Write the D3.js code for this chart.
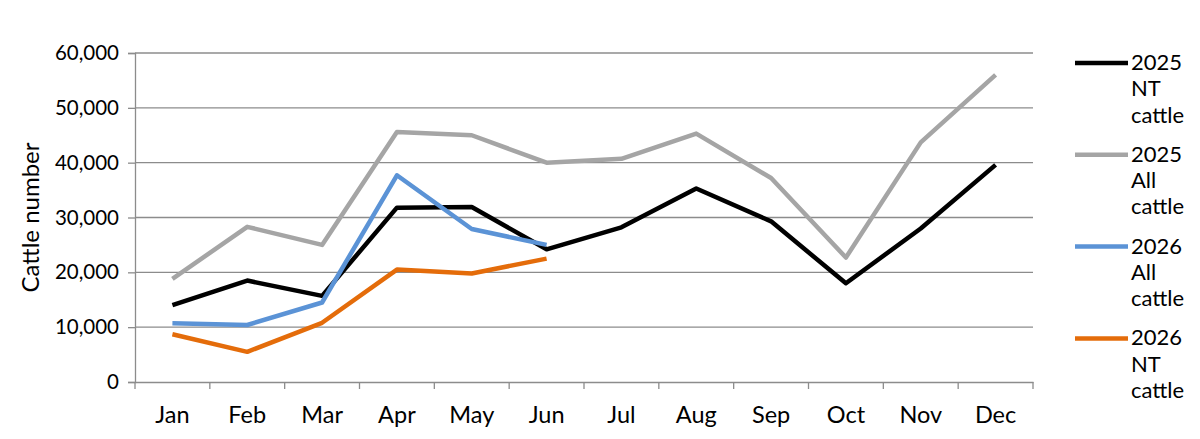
<!DOCTYPE html>
<html>
<head>
<meta charset="utf-8">
<script src="https://cdn.jsdelivr.net/npm/d3@7"></script>
<style>
body { margin: 0; background: #fff; }
text { font-family: Lato, "Open Sans", sans-serif; fill: #000; }
</style>
</head>
<body>
<svg class="graph1"></svg>
<script>
var months = ["Jan","Feb","Mar","Apr","May","Jun","Jul","Aug","Sep","Oct","Nov","Dec"];
var nt2025 = [14000,18500,15700,31800,31900,24200,28200,35300,29300,18000,28000,39600];
var all2025 = [18800,28300,25000,45600,45000,40000,40700,45300,37200,22700,43700,56000];
var all2026 = [10700,10400,14500,37700,27900,25000];
var nt2026 = [8700,5500,10800,20500,19800,22500];
var yTicks = [0,10000,20000,30000,40000,50000,60000];

var seriesList = [
    {name:["2025","NT","cattle"], values:nt2025, color:"#000000"},
    {name:["2025","All","cattle"], values:all2025, color:"#a5a5a5"},
    {name:["2026","All","cattle"], values:all2026, color:"#5b93d6"},
    {name:["2026","NT","cattle"], values:nt2026, color:"#e46c0a"}
];

var makeTranslateString = function(x,y)
{
    return "translate("+x+","+y+")";
}

var screen = {width:1200,height:439}
var margins = {left:135,right:167,top:53,bottom:57}
var graph =
    {
        width:screen.width-margins.left-margins.right,
        height:screen.height-margins.top-margins.bottom
    }

var svg = d3.select(".graph1")
    .attr("width",screen.width)
    .attr("height",screen.height)

var xScale = d3.scaleBand()
    .domain(months)
    .range([0,graph.width])

var yScale = d3.scaleLinear()
    .domain([0,60000])
    .range([graph.height,0])

var target = svg.append("g")
    .attr("transform",makeTranslateString(margins.left,margins.top))

// gridlines
target.append("g")
    .selectAll("line")
    .data(yTicks.slice(1))
    .enter()
    .append("line")
    .attr("x1",0)
    .attr("x2",graph.width)
    .attr("y1",function(d){return yScale(d)})
    .attr("y2",function(d){return yScale(d)})
    .attr("stroke","#8c8c8c")
    .attr("stroke-width",1.3)

// y axis
var yAxis = d3.axisLeft(yScale)
    .tickValues(yTicks)
    .tickFormat(d3.format(","))
    .tickSize(7)
    .tickPadding(9)

var yG = target.append("g").call(yAxis)
yG.select(".domain").attr("stroke","#8c8c8c").attr("stroke-width",1.3)
yG.selectAll(".tick line").attr("stroke","#8c8c8c").attr("stroke-width",1.3)
yG.selectAll("text").attr("font-size",20.5).attr("font-family","Lato")

// x axis
var xAxis = d3.axisBottom(xScale).tickSize(0).tickPadding(24)
var xG = target.append("g")
    .attr("transform",makeTranslateString(0,graph.height))
    .call(xAxis)
xG.select(".domain").attr("stroke","#8c8c8c").attr("stroke-width",1.3)
xG.selectAll("text").attr("font-size",23.5).attr("font-family","Lato")

xG.append("g")
    .selectAll("line")
    .data(d3.range(months.length+1))
    .enter()
    .append("line")
    .attr("x1",function(i){return i*xScale.step()})
    .attr("x2",function(i){return i*xScale.step()})
    .attr("y1",0)
    .attr("y2",7)
    .attr("stroke","#8c8c8c")
    .attr("stroke-width",1.3)

// lines
var line = d3.line()
    .x(function(d,i){return xScale(months[i])+xScale.bandwidth()/2})
    .y(function(d){return yScale(d)})

target.append("g")
    .selectAll("path")
    .data(seriesList)
    .enter()
    .append("path")
    .attr("d",function(s){return line(s.values)})
    .attr("fill","none")
    .attr("stroke",function(s){return s.color})
    .attr("stroke-width",4.5)
    .attr("stroke-linejoin","round")

// axis title
svg.append("text")
    .attr("transform",makeTranslateString(39,margins.top+graph.height/2)+" rotate(-90)")
    .attr("text-anchor","middle")
    .attr("font-size",24)
    .text("Cattle number")

// legend
var legend = svg.append("g")
    .selectAll("g")
    .data(seriesList)
    .enter()
    .append("g")
    .attr("transform",function(s,i){return makeTranslateString(1075,63+i*91.8)})

legend.append("line")
    .attr("x1",0)
    .attr("x2",53)
    .attr("stroke",function(s){return s.color})
    .attr("stroke-width",4.5)

legend.append("text")
    .attr("x",56)
    .attr("y",7)
    .attr("font-size",22)
    .selectAll("tspan")
    .data(function(s){return s.name})
    .enter()
    .append("tspan")
    .attr("x",56)
    .attr("dy",function(d,i){return i==0?0:26.3})
    .text(function(d){return d})
</script>
</body>
</html>
